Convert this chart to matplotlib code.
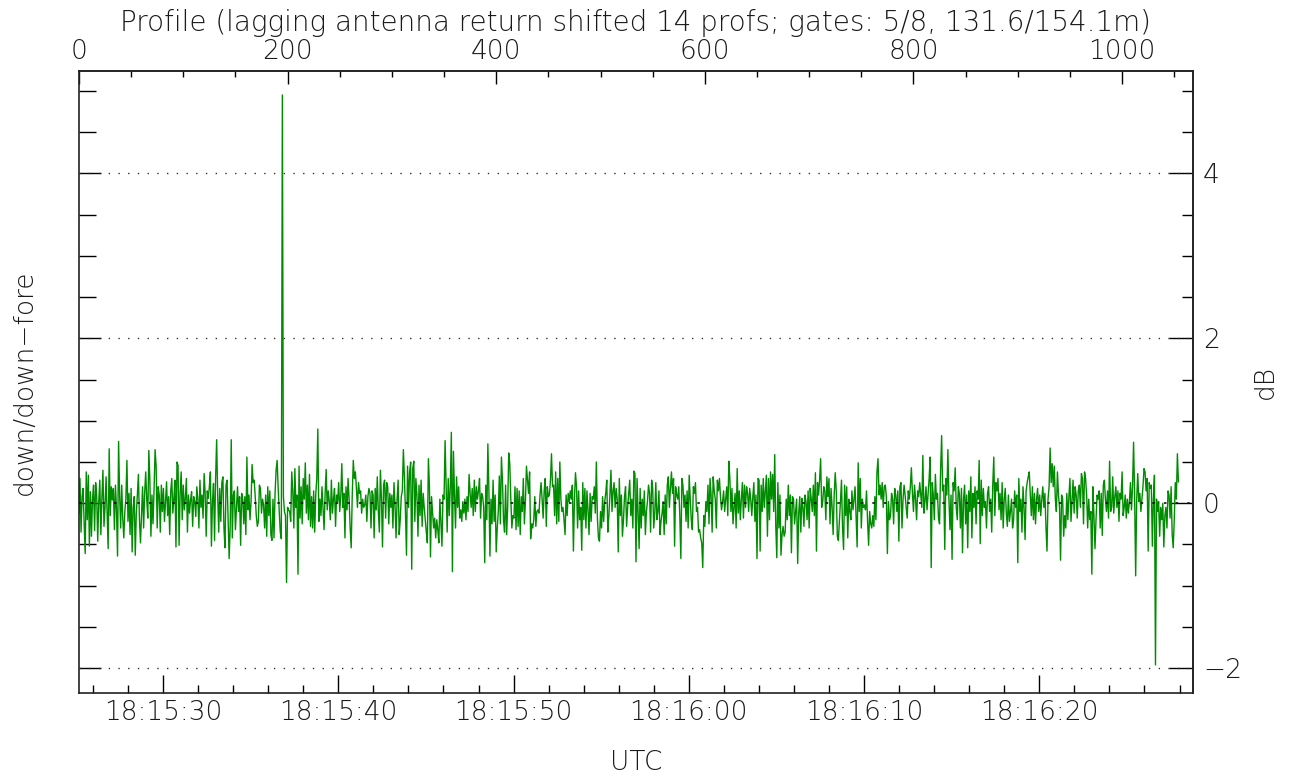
import numpy as np
import matplotlib
matplotlib.use("Agg")
import matplotlib.pyplot as plt
from matplotlib.ticker import MultipleLocator, FixedLocator, FuncFormatter

# time of profile 0 (seconds after 18:15:00) and profiles per second
start_sec = 25.2
prof_rate = 16.8

# down/down-fore ratio in dB, one value per profile
ratio_db = [
    -0.12, 0.30, -0.35, 0.08, 0.18, -0.25, -0.61, 0.38, -0.20, 0.34, -0.52, 0.14, -0.40, 0.05, 0.22, -0.33, 0.25, 0.10, -0.46, 0.02,
    0.28, -0.38, 0.06, 0.40, -0.28, -0.05, 0.32, -0.10, -0.55, 0.66, -0.15, 0.20, 0.04, 0.18, -0.32, 0.22, -0.08, -0.64, 0.75, 0.10,
    -0.30, 0.22, -0.18, -0.42, -0.10, 0.06, 0.52, -0.22, 0.12, -0.38, 0.18, -0.59, -0.05, 0.08, -0.63, -0.12, 0.10, 0.35, -0.20, -0.48,
    -0.15, 0.20, -0.30, 0.12, 0.38, 0.05, -0.18, 0.64, 0.28, -0.40, 0.10, -0.25, 0.16, 0.65, 0.45, -0.30, 0.20, 0.10, -0.35, 0.22,
    -0.10, 0.18, -0.22, 0.02, 0.26, -0.15, 0.08, -0.38, 0.15, 0.30, -0.12, 0.05, 0.28, -0.53, 0.50, 0.46, -0.51, 0.12, 0.38, -0.20,
    0.22, -0.08, 0.06, 0.30, -0.35, 0.10, -0.12, 0.04, 0.14, -0.28, 0.08, 0.02, -0.16, 0.20, 0.05, -0.30, 0.28, -0.05, 0.10, -0.18,
    0.36, 0.12, -0.40, 0.15, 0.06, 0.20, 0.38, -0.52, 0.02, 0.24, -0.45, 0.30, 0.77, 0.10, -0.35, 0.18, -0.22, 0.25, 0.32, -0.30,
    -0.54, 0.22, 0.28, -0.18, -0.67, -0.28, 0.77, -0.42, 0.10, 0.15, -0.32, -0.05, 0.20, -0.10, 0.08, -0.51, 0.12, 0.05, -0.25, 0.08,
    -0.38, 0.56, -0.08, 0.10, -0.20, 0.02, 0.47, 0.25, 0.28, 0.08, -0.15, -0.28, -0.22, 0.22, 0.18, -0.12, 0.05, -0.02, -0.30, 0.10,
    -0.40, 0.20, -0.15, 0.15, -0.38, -0.45, 0.05, -0.42, 0.12, 0.40, 0.52, 0.18, -0.10, -0.35, -0.43, 4.95, 0.08, -0.10, -0.15, -0.96,
    -0.05, -0.08, -0.10, -0.22, 0.38, 0.15, -0.30, 0.42, -0.05, 0.10, -0.86, 0.45, -0.18, 0.20, -0.25, 0.30, 0.05, 0.49, -0.12, 0.22,
    -0.20, 0.35, -0.28, 0.08, -0.30, 0.15, -0.35, 0.10, 0.30, 0.90, -0.22, 0.05, -0.15, 0.20, -0.05, -0.32, 0.12, 0.41, -0.08, 0.15,
    0.02, -0.20, 0.28, -0.12, 0.05, 0.18, -0.28, 0.10, 0.02, 0.25, -0.10, 0.08, 0.48, -0.05, 0.12, -0.42, 0.20, -0.08, 0.30, 0.05,
    -0.30, -0.54, 0.10, 0.52, 0.30, 0.38, 0.18, -0.05, 0.25, 0.12, 0.15, -0.12, 0.05, -0.05, -0.02, 0.10, -0.22, 0.08, 0.18, 0.12,
    -0.30, 0.15, 0.10, -0.42, 0.18, -0.08, 0.32, -0.10, -0.35, 0.40, 0.05, -0.53, 0.22, 0.28, -0.18, 0.25, 0.20, -0.25, 0.12, -0.05,
    0.10, -0.30, 0.25, -0.02, -0.42, 0.05, 0.28, -0.38, -0.20, 0.08, 0.15, 0.65, 0.32, -0.10, -0.63, 0.45, -0.05, 0.38, 0.50, -0.80,
    0.42, 0.51, -0.22, 0.30, 0.10, -0.40, 0.22, -0.15, 0.28, -0.28, 0.12, -0.05, -0.20, -0.35, -0.48, 0.54, 0.20, -0.65, 0.08, -0.12,
    -0.30, -0.18, -0.42, -0.20, -0.32, -0.48, 0.05, -0.25, -0.52, 0.10, 0.05, 0.76, 0.18, -0.35, 0.30, -0.15, 0.20, 0.86, -0.83, 0.63,
    0.10, -0.30, 0.32, -0.05, 0.20, -0.18, -0.08, -0.22, 0.02, -0.12, 0.05, -0.20, 0.08, -0.10, 0.35, 0.12, -0.05, 0.18, -0.15, 0.28,
    -0.10, 0.20, 0.05, 0.15, 0.30, -0.18, 0.12, 0.08, -0.05, -0.72, 0.22, -0.20, 0.72, 0.15, -0.64, 0.05, -0.25, 0.28, -0.22, 0.10,
    -0.59, -0.30, -0.10, 0.33, -0.25, 0.56, 0.28, -0.20, -0.35, 0.22, -0.38, -0.05, 0.61, 0.48, 0.05, -0.30, -0.15, -0.18, 0.20, -0.32,
    0.18, -0.28, 0.15, -0.38, 0.08, -0.10, 0.30, -0.25, 0.02, 0.45, 0.28, 0.12, 0.38, -0.43, -0.25, -0.30, -0.20, 0.08, -0.28, -0.10,
    -0.08, -0.12, 0.10, 0.25, 0.05, -0.18, 0.15, 0.30, -0.28, 0.20, 0.08, 0.10, 0.28, 0.60, 0.20, 0.22, -0.15, 0.38, -0.25, 0.30,
    -0.22, 0.50, 0.05, -0.10, -0.05, -0.20, -0.38, 0.10, -0.15, 0.12, 0.02, 0.15, 0.05, 0.22, -0.58, 0.05, 0.37, 0.20, -0.30, 0.15,
    -0.20, -0.05, -0.57, 0.25, -0.20, 0.18, -0.30, 0.15, -0.08, -0.38, 0.12, -0.22, 0.08, 0.05, 0.20, -0.12, 0.50, -0.18, -0.42, -0.46,
    -0.10, -0.30, 0.08, -0.22, 0.02, 0.12, 0.28, -0.35, -0.15, 0.10, 0.40, -0.10, 0.15, 0.25, -0.05, 0.18, 0.05, -0.59, 0.30, -0.15,
    0.10, -0.40, -0.20, 0.08, 0.20, -0.28, -0.05, 0.12, 0.28, -0.15, 0.05, -0.30, 0.39, 0.36, -0.71, 0.30, -0.10, -0.55, 0.18, -0.30,
    0.05, -0.15, 0.15, -0.38, -0.10, 0.02, 0.22, 0.12, -0.35, 0.28, 0.18, -0.30, -0.12, 0.25, -0.20, -0.10, 0.15, -0.38, -0.22, -0.12,
    0.02, -0.38, 0.10, -0.25, 0.22, 0.32, -0.05, 0.18, 0.38, 0.12, 0.30, -0.52, 0.20, 0.10, 0.05, 0.20, -0.15, -0.67, 0.30, 0.22,
    -0.05, 0.10, -0.22, 0.15, -0.30, 0.34, 0.05, -0.20, -0.32, 0.20, 0.12, 0.25, -0.10, -0.05, -0.35, -0.32, -0.42, -0.48, -0.78, -0.15,
    -0.28, 0.02, -0.10, 0.22, -0.25, 0.30, 0.10, -0.35, 0.32, 0.15, 0.05, -0.30, 0.28, 0.15, 0.30, 0.08, -0.08, 0.02, 0.15, -0.10,
    0.05, 0.20, -0.15, 0.51, 0.30, -0.10, 0.18, -0.25, -0.05, 0.12, -0.30, 0.42, -0.12, 0.15, -0.20, 0.05, 0.25, -0.18, 0.22, -0.05,
    0.20, 0.12, -0.10, 0.18, 0.05, -0.15, 0.08, 0.25, -0.22, 0.10, -0.67, 0.30, 0.28, -0.58, 0.22, -0.10, 0.30, -0.05, 0.15, 0.34,
    -0.40, 0.30, -0.20, 0.38, 0.05, 0.35, -0.10, 0.59, -0.28, -0.66, 0.25, -0.30, 0.10, -0.63, -0.38, -0.28, -0.40, -0.35, 0.05, -0.20,
    0.22, -0.15, 0.10, -0.60, 0.08, 0.05, -0.25, -0.10, 0.05, -0.73, -0.12, 0.08, -0.35, 0.06, -0.05, -0.28, 0.10, 0.02, -0.20, 0.15,
    -0.30, 0.18, 0.05, -0.10, 0.22, -0.15, 0.37, -0.58, 0.25, 0.10, 0.28, 0.54, -0.05, 0.02, 0.20, 0.15, -0.20, 0.32, 0.08, 0.30,
    -0.25, 0.18, -0.05, -0.38, 0.10, 0.37, 0.15, -0.40, -0.45, -0.22, 0.02, 0.28, -0.30, -0.56, 0.22, -0.15, 0.20, -0.42, 0.05, -0.10,
    -0.20, 0.15, -0.08, 0.05, 0.20, -0.15, -0.53, 0.49, -0.10, 0.30, -0.30, 0.05, -0.05, -0.02, -0.08, 0.15, -0.22, -0.51, -0.10, -0.25,
    -0.30, -0.15, -0.28, 0.08, -0.20, 0.38, 0.54, 0.10, 0.22, 0.05, 0.25, -0.05, 0.20, 0.22, 0.08, -0.61, 0.02, -0.20, -0.15, 0.12,
    0.05, -0.25, 0.18, 0.10, -0.10, 0.15, -0.46, 0.20, 0.25, -0.30, 0.05, 0.22, 0.10, -0.05, -0.18, 0.15, 0.05, 0.20, 0.43, 0.12,
    -0.10, 0.22, 0.05, -0.20, 0.15, 0.08, 0.25, 0.10, -0.05, 0.58, -0.12, 0.02, 0.20, -0.08, 0.12, 0.30, 0.56, -0.78, 0.25, 0.10,
    -0.20, 0.35, 0.05, 0.12, -0.18, -0.25, 0.40, 0.82, 0.15, 0.22, -0.56, 0.30, 0.10, 0.65, 0.05, -0.32, 0.10, -0.68, 0.25, 0.15,
    0.43, -0.05, -0.20, 0.20, 0.12, -0.30, 0.18, -0.60, 0.05, 0.22, -0.25, 0.10, -0.54, 0.15, -0.10, 0.32, -0.42, 0.12, -0.05, 0.20,
    -0.25, 0.15, 0.05, 0.52, -0.49, 0.28, -0.15, 0.18, -0.05, 0.02, -0.30, 0.12, 0.20, -0.10, 0.05, -0.35, 0.22, 0.56, -0.15, 0.25,
    0.15, 0.30, -0.08, 0.12, -0.20, 0.25, -0.30, 0.05, 0.18, -0.12, -0.28, 0.10, -0.22, -0.10, 0.05, -0.30, -0.20, 0.15, -0.05, 0.10,
    -0.72, 0.30, -0.10, 0.05, -0.35, 0.20, -0.05, -0.44, 0.15, 0.25, 0.32, 0.38, 0.10, -0.15, 0.20, -0.20, 0.12, -0.25, 0.05, 0.18,
    -0.10, 0.10, -0.15, 0.05, 0.20, -0.05, 0.12, -0.28, -0.58, 0.05, 0.20, 0.67, 0.25, 0.48, 0.20, 0.45, 0.05, -0.10, 0.38, 0.10,
    -0.05, -0.69, 0.10, 0.05, -0.40, -0.15, -0.30, 0.12, -0.20, 0.08, 0.30, -0.22, 0.02, 0.28, -0.12, 0.20, 0.10, -0.18, 0.15, 0.22,
    -0.05, 0.36, 0.30, -0.25, 0.38, 0.30, 0.10, -0.30, 0.05, -0.20, -0.10, -0.86, 0.20, -0.15, -0.55, -0.20, 0.10, 0.05, 0.15, -0.30,
    0.12, -0.39, 0.22, 0.28, 0.05, -0.10, 0.15, -0.18, 0.51, -0.10, -0.05, 0.32, -0.12, 0.08, 0.20, -0.05, 0.15, -0.22, 0.12, 0.05,
    0.38, -0.15, -0.05, 0.10, -0.18, 0.05, -0.12, 0.02, 0.25, -0.08, 0.20, 0.74, 0.10, -0.88, 0.05, 0.36, 0.02, 0.12, -0.10, 0.05,
    0.20, 0.42, 0.38, 0.15, 0.30, -0.58, 0.25, 0.18, 0.22, -0.52, 0.05, 0.34, -1.96, 0.05, -0.10, 0.02, -0.40, -0.05, -0.20, 0.00,
    -0.53, -0.15, -0.05, -0.30, 0.15, 0.10, -0.18, 0.20, -0.38, -0.54, -0.20, 0.25, 0.05, 0.60, 0.26,
]

utc_ticks = [30, 40, 50, 60, 70, 80]          # seconds after 18:15:00
profile_ticks = [0, 200, 400, 600, 800, 1000]
db_ticks = [-2, 0, 2, 4]
grid_levels = [-2, 2, 4]
n_profiles_axis = 1068
txt = "#1a1a1a"
fs = 19

plt.rcParams["font.family"] = ["DejaVu Sans"]
plt.rcParams["font.weight"] = "light"
plt.rcParams["axes.labelweight"] = "light"

def to_profile(t):
    return (t - start_sec) * prof_rate

def to_time(p):
    return start_sec + p / prof_rate

def utc_label(t, pos):
    s = int(round(t)) + 15 * 60
    return "18:%02d:%02d" % (s // 60, s % 60)

t = to_time(np.arange(len(ratio_db)))

fig = plt.figure(figsize=(12.92, 7.78), dpi=100)
ax = fig.add_axes([0.0611, 0.1093, 0.8623, 0.7994])

ax.plot(t, ratio_db, color="#008c00", lw=1.0, zorder=2)
for lev in grid_levels:
    ax.axhline(lev, color="#333333", lw=1.0, ls=(0, (1, 6)), zorder=3)
ax.axhline(0, color="#111111", lw=1.2, ls=(0, (1.5, 5.5)), zorder=3)

ax.set_xlim(start_sec, to_time(n_profiles_axis))
ax.set_ylim(-2.30, 5.24)

for sp in ax.spines.values():
    sp.set_color("#222222")
    sp.set_linewidth(1.2)

# bottom: UTC
ax.xaxis.set_major_locator(FixedLocator(utc_ticks))
ax.xaxis.set_minor_locator(MultipleLocator(2))
ax.xaxis.set_major_formatter(FuncFormatter(utc_label))
ax.tick_params(axis="x", which="major", direction="in", length=13, width=1,
               labelsize=fs, labelcolor=txt, pad=5)
ax.tick_params(axis="x", which="minor", direction="in", length=6, width=1)
ax.set_xlabel("UTC", fontsize=fs, color=txt, fontweight="light", labelpad=18)

# left: ticks only
ax.yaxis.set_major_locator(FixedLocator(db_ticks))
ax.yaxis.set_minor_locator(MultipleLocator(0.5))
ax.tick_params(axis="y", which="both", direction="in", left=True, right=False,
               labelleft=False, width=1)
ax.tick_params(axis="y", which="major", length=16)
ax.tick_params(axis="y", which="minor", length=12)
ax.set_ylabel("down/down\u2212fore", fontsize=fs, color=txt, fontweight="light", labelpad=30)

# right: dB labels
ay = ax.secondary_yaxis("right")
ay.yaxis.set_major_locator(FixedLocator(db_ticks))
ay.yaxis.set_minor_locator(MultipleLocator(0.5))
ay.yaxis.set_major_formatter(FuncFormatter(lambda v, p: ("%d" % v).replace("-", "\u2212")))
ay.tick_params(axis="y", which="major", direction="in", length=17, width=1,
               labelsize=fs, labelcolor=txt, pad=7)
ay.tick_params(axis="y", which="minor", direction="in", length=8, width=1)
ay.spines["right"].set_color("#222222")
ay.spines["right"].set_linewidth(1.2)
ay.set_ylabel("dB", fontsize=fs, color=txt, fontweight="light", labelpad=8)

# top: profile number
axt = ax.secondary_xaxis("top", functions=(to_profile, to_time))
axt.xaxis.set_major_locator(FixedLocator(profile_ticks))
axt.xaxis.set_minor_locator(MultipleLocator(50))
axt.tick_params(axis="x", which="major", direction="in", length=9, width=1,
                labelsize=fs, labelcolor=txt, pad=5)
axt.tick_params(axis="x", which="minor", direction="in", length=4.5, width=1)
axt.spines["top"].set_color("#222222")
axt.spines["top"].set_linewidth(1.2)
axt.set_xlabel("Profile (lagging antenna return shifted 14 profs; gates: 5/8, 131.6/154.1m)",
               fontsize=20, color=txt, fontweight="light", labelpad=6)

fig.savefig("out.png", dpi=100)
